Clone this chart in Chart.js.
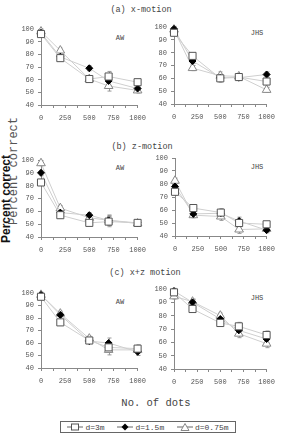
<!DOCTYPE html>
<html>
<head>
<meta charset="utf-8">
<script src="https://cdn.jsdelivr.net/npm/chart.js@4.4.1/dist/chart.umd.min.js"></script>
<style>
  body { margin: 0; background: #fff; }
  #wrap { position: relative; width: 282px; height: 436px; overflow: hidden; font-family: "Liberation Mono", monospace; color: #333; }
  canvas { position: absolute; }
  .t { position: absolute; white-space: nowrap; }
  .title { font-size: 8.5px; color: #444; transform: translateX(-50%); }
  .tag { font-size: 7px; color: #444; transform: translateX(-50%); }
  .legend { position: absolute; left: 60px; top: 421px; width: 174px; height: 10px; border: 1px solid #666;
            font-size: 8px; color: #444; display: flex; align-items: center; justify-content: space-around; }
  .legend span { display: flex; align-items: center; }
  .legend svg { margin-right: 2px; }
</style>
</head>
<body>
<div id="wrap">
  <div class="t title" style="left:141px; top:5px;">(a) x-motion</div>
  <div class="t title" style="left:142px; top:142px;">(b) z-motion</div>
  <div class="t title" style="left:145px; top:268px;">(c) x+z motion</div>

  <div class="t tag" style="left:120px; top:34px;">AW</div>
  <div class="t tag" style="left:257px; top:29px;">JHS</div>
  <div class="t tag" style="left:120px; top:164px;">AW</div>
  <div class="t tag" style="left:257px; top:163px;">JHS</div>
  <div class="t tag" style="left:120px; top:298px;">AW</div>
  <div class="t tag" style="left:257px; top:294px;">JHS</div>

  <div class="t" style="left:6px; top:199px; font:bold 12px 'Liberation Sans', Arial, sans-serif; color:#111; transform:translate(-50%,-50%) rotate(-90deg);">Percent correct</div>
  <div class="t" style="left:14px; top:171px; font-size:12px; color:#555; transform:translate(-50%,-50%) rotate(-90deg);">Percent correct</div>

  <div class="t" style="left:156px; top:397px; font-size:10.5px; color:#444; transform:translateX(-50%);">No. of dots</div>

  <div class="legend">
    <span><svg width="16" height="8"><line x1="0" y1="4" x2="16" y2="4" stroke="#666"/><rect x="4.5" y="1" width="7" height="6" fill="#fff" stroke="#555"/></svg>d=3m</span>
    <span><svg width="16" height="8"><line x1="0" y1="4" x2="16" y2="4" stroke="#666"/><polygon points="8,0.5 11.5,4 8,7.5 4.5,4" fill="#000"/></svg>d=1.5m</span>
    <span><svg width="16" height="8"><line x1="0" y1="4" x2="16" y2="4" stroke="#666"/><polygon points="8,0.5 12,7.5 4,7.5" fill="#fff" stroke="#888"/></svg>d=0.75m</span>
  </div>
</div>

<script>
// number of dots on the x axis
var dots = [0, 200, 500, 700, 1000];
var seriesNames = ['d=3m', 'd=1.5m', 'd=0.75m'];
var yTicks = [40, 50, 60, 70, 80, 90, 100];
var xTicks = [0, 250, 500, 750, 1000];

// (a) x-motion
var aAW_3m    = [96, 77, 60.5, 62.5, 58];
var aAW_15m   = [97, 78, 69, 59, 53];
var aAW_075m  = [98, 83, 60.5, 55, 51.5];
var aAW_err   = [2, 2, 2, 4, 2];
var aJHS_3m   = [95.5, 77.5, 60, 61, 57.5];
var aJHS_15m  = [98.5, 73.5, 60.5, 60.5, 63];
var aJHS_075m = [98, 68, 62, 61.5, 51];
var aJHS_err  = [2, 2, 3, 2, 2];

// (b) z-motion
var bAW_3m    = [82.5, 57, 51, 52, 51];
var bAW_15m   = [90, 59, 57, 53, 51];
var bAW_075m  = [97.5, 62.5, 55, 53, 50.5];
var bAW_err   = [2, 2, 2, 4, 2];
var bJHS_3m   = [74, 61.5, 58, 50, 49];
var bJHS_15m  = [78, 57, 57.5, 51.5, 44.5];
var bJHS_075m = [82.5, 56, 55, 45, 45.5];
var bJHS_err  = [2, 2, 3, 3, 2];

// (c) x+z motion
var cAW_3m    = [97, 76.5, 62, 56.5, 55.5];
var cAW_15m   = [98.5, 82.5, 61.5, 60, 53];
var cAW_075m  = [98.5, 83.5, 63.5, 54.5, 54.5];
var cAW_err   = [2, 2, 2, 4, 3];
var cJHS_3m   = [97.5, 85, 74.5, 72, 65.5];
var cJHS_15m  = [98.5, 90, 77.5, 69, 62.5];
var cJHS_075m = [94.5, 90.5, 80, 66.5, 59];
var cJHS_err  = [2, 2, 2, 3, 3];

var styles = [
    { pointStyle: 'rect', pointRadius: 5, pointBackgroundColor: '#fff', pointBorderColor: '#555' },
    { pointStyle: 'rectRot', pointRadius: 3.5, pointBackgroundColor: '#000', pointBorderColor: '#000' },
    { pointStyle: 'triangle', pointRadius: 5, pointBackgroundColor: '#fff', pointBorderColor: '#888' }
];

// small error bars drawn from the y scale, under the markers
var errorBars = {
    id: 'errorBars',
    beforeDatasetsDraw: function (chart) {
        var err = chart.options.plugins.errorBars.values;
        var x = chart.scales.x, y = chart.scales.y, ctx = chart.ctx;
        ctx.save();
        ctx.strokeStyle = '#999';
        ctx.lineWidth = 1;
        chart.data.datasets.forEach(function (ds) {
            ds.data.forEach(function (v, i) {
                var px = Math.round(x.getPixelForValue(dots[i])) + 0.5;
                var top = y.getPixelForValue(v + err[i]);
                var bot = y.getPixelForValue(v - err[i]);
                ctx.beginPath();
                ctx.moveTo(px, top); ctx.lineTo(px, bot);
                ctx.moveTo(px - 2, top); ctx.lineTo(px + 2, top);
                ctx.moveTo(px - 2, bot); ctx.lineTo(px + 2, bot);
                ctx.stroke();
            });
        });
        ctx.restore();
    }
};

function makePanel(box, s1, s2, s3, err) {
    var c = document.createElement('canvas');
    c.width = box.w; c.height = box.h;
    c.style.left = box.l + 'px'; c.style.top = box.t + 'px';
    document.getElementById('wrap').appendChild(c);

    var sets = [s1, s2, s3].map(function (vals, k) {
        return Object.assign({
            label: seriesNames[k],
            data: vals,
            borderColor: '#cfcfcf',
            borderWidth: 1,
            pointBorderWidth: 1,
            fill: false,
            clip: false,
            tension: 0
        }, styles[k]);
    });

    new Chart(c.getContext('2d'), {
        type: 'line',
        data: { labels: dots, datasets: sets },
        options: {
            responsive: false,
            animation: false,
            devicePixelRatio: 1,
            layout: { padding: { top: 9, right: box.pr, left: 0, bottom: 0 } },
            plugins: {
                legend: { display: false },
                tooltip: { enabled: false },
                errorBars: { values: err }
            },
            scales: {
                x: {
                    type: 'linear',
                    min: 0, max: 1000,
                    afterFit: function (s) { s.height = 22; },
                    afterBuildTicks: function (s) {
                        s.ticks = [0, 125, 250, 375, 500, 625, 750, 875, 1000].map(function (v) { return { value: v }; });
                    },
                    ticks: {
                        autoSkip: false, maxRotation: 0, padding: 6,
                        color: '#555',
                        font: { family: 'Liberation Mono', size: 7 },
                        callback: function (v) { return xTicks.indexOf(v) >= 0 ? String(v) : ''; }
                    },
                    grid: { drawOnChartArea: false, tickLength: 3, color: '#888' },
                    border: { color: '#888' }
                },
                y: {
                    min: 40, max: 100,
                    afterFit: function (s) { s.width = 33; },
                    afterBuildTicks: function (s) {
                        s.ticks = yTicks.map(function (v) { return { value: v }; });
                    },
                    ticks: {
                        padding: 4,
                        color: '#555',
                        font: { family: 'Liberation Mono', size: 7 }
                    },
                    grid: { drawOnChartArea: false, tickLength: 3, color: '#888' },
                    border: { color: '#888' }
                }
            }
        },
        plugins: [errorBars]
    });
}

makePanel({ l: 8,   t: 20,  w: 144, h: 107, pr: 14 }, aAW_3m, aAW_15m, aAW_075m, aAW_err);
makePanel({ l: 141, t: 18,  w: 140, h: 108, pr: 10 }, aJHS_3m, aJHS_15m, aJHS_075m, aJHS_err);
makePanel({ l: 8,   t: 151, w: 144, h: 108, pr: 14 }, bAW_3m, bAW_15m, bAW_075m, bAW_err);
makePanel({ l: 142, t: 149, w: 139, h: 109, pr: 10 }, bJHS_3m, bJHS_15m, bJHS_075m, bJHS_err);
makePanel({ l: 8,   t: 284, w: 144, h: 106, pr: 14 }, cAW_3m, cAW_15m, cAW_075m, cAW_err);
makePanel({ l: 141, t: 280, w: 140, h: 111, pr: 10 }, cJHS_3m, cJHS_15m, cJHS_075m, cJHS_err);
</script>
</body>
</html>
